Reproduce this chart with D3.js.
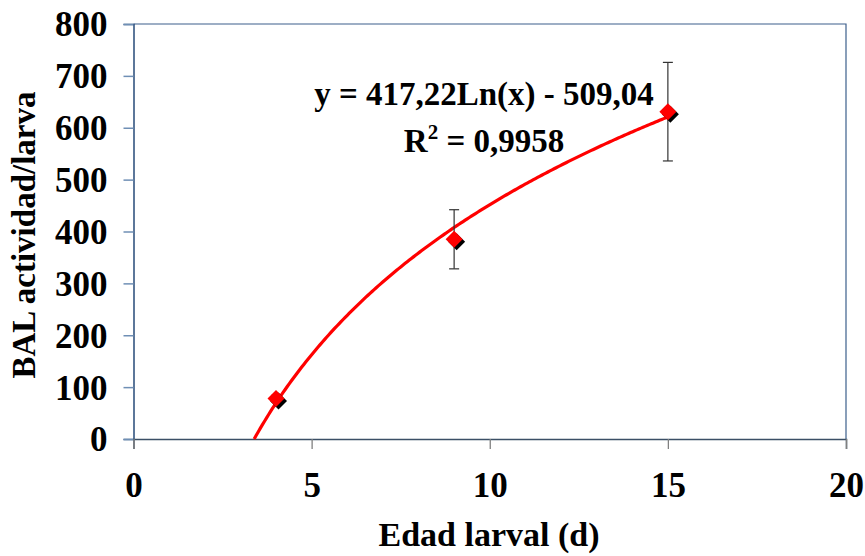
<!DOCTYPE html>
<html><head><meta charset="utf-8">
<script src="https://cdn.jsdelivr.net/npm/d3@7"></script>
<style>
body{margin:0;background:#fff;}
svg{display:block;font-family:"Liberation Serif","Times New Roman",serif;font-weight:bold;}
</style></head>
<body>
<svg id="c" width="865" height="556"></svg>
<script>
const edades = [4, 9, 15];
const actividad = [78, 385, 631];
const errores = [6, 57, 95];
const xTicks = [0, 5, 10, 15, 20];
const yTicks = [0, 100, 200, 300, 400, 500, 600, 700, 800];
const coefA = 417.22, coefB = -509.04;
const ecuacion = "y = 417,22Ln(x) - 509,04";
const r2Texto = "0,9958";
const xTitulo = "Edad larval (d)";
const yTitulo = "BAL actividad/larva";

const svg = d3.select("#c");
const L = 133.5, R = 846, T = 24, B = 439;
const x = d3.scaleLinear().domain([0, 20]).range([L, R]);
const y = d3.scaleLinear().domain([0, 800]).range([B, T]);
const axisCol = "#274b7a";

// border top/right
svg.append("path").attr("d", `M${L},${T}H${R}V${B}`).attr("fill","none").attr("stroke","#3d5f8c").attr("stroke-width",1.2);

// y axis
const gy = svg.append("g").attr("transform",`translate(${L},0)`)
  .call(d3.axisLeft(y).tickValues(yTicks).tickSize(10).tickPadding(16).tickFormat(d3.format("d")));
gy.select(".domain").attr("stroke",axisCol).attr("stroke-width",1.5);
gy.selectAll(".tick line").attr("stroke","#6f8fb5").attr("stroke-width",1.5);
gy.selectAll("text").attr("font-size",35).attr("font-family","Liberation Serif").attr("font-weight","bold").attr("fill","#000").attr("dy","0.34em");

// x axis
const gx = svg.append("g").attr("transform",`translate(0,${B})`)
  .call(d3.axisBottom(x).tickValues(xTicks).tickSize(10).tickPadding(36).tickFormat(d3.format("d")));
gx.select(".domain").attr("stroke","#3b4f66").attr("stroke-width",1.5);
gx.selectAll(".tick line").attr("stroke","#808080").attr("stroke-width",1.3);
gx.selectAll("text").attr("font-size",35).attr("font-family","Liberation Serif").attr("font-weight","bold").attr("fill","#000").attr("dy","0").attr("y",58);

// trend line
const x0 = Math.exp(-coefB / coefA);
const xs = d3.range(0, 201).map(i => x0 + (15 - x0) * i / 200);
svg.append("path")
  .datum(xs)
  .attr("d", d3.line().x(d => x(d)).y(d => y(coefA * Math.log(d) + coefB)))
  .attr("fill","none").attr("stroke","#ff0000").attr("stroke-width",3.2);

// error bars
const eb = svg.append("g").attr("stroke","#333").attr("stroke-width",1.2);
edades.forEach((e,i) => {
  const cx = x(e);
  eb.append("line").attr("x1",cx).attr("x2",cx).attr("y1",y(actividad[i]-errores[i])).attr("y2",y(actividad[i]+errores[i]));
  eb.append("line").attr("x1",cx-5).attr("x2",cx+5).attr("y1",y(actividad[i]-errores[i])).attr("y2",y(actividad[i]-errores[i]));
  eb.append("line").attr("x1",cx-5).attr("x2",cx+5).attr("y1",y(actividad[i]+errores[i])).attr("y2",y(actividad[i]+errores[i]));
});

// markers with shadow
const s = 8.5;
const diamond = (cx, cy) => `M${cx},${cy-s}L${cx+s},${cy}L${cx},${cy+s}L${cx-s},${cy}Z`;
edades.forEach((e,i) => {
  const cx = x(e), cy = y(actividad[i]);
  svg.append("path").attr("d", diamond(cx+2.5, cy+2.5)).attr("fill","#000");
  svg.append("path").attr("d", diamond(cx, cy)).attr("fill","#ff0000");
});

// equation
svg.append("text").attr("x",484).attr("y",105).attr("text-anchor","middle").attr("font-size",33).attr("fill","#000").text(ecuacion);
const r2 = svg.append("text").attr("x",484).attr("y",152).attr("text-anchor","middle").attr("font-size",33).attr("fill","#000");
r2.append("tspan").text("R");
r2.append("tspan").attr("font-size",21).attr("dy",-13).text("2");
r2.append("tspan").attr("dy",13).text(" = " + r2Texto);

// axis titles
svg.append("text").attr("x",489).attr("y",546).attr("text-anchor","middle").attr("font-size",34).attr("fill","#000").text(xTitulo);
svg.append("text").attr("transform","translate(35,235) rotate(-90)").attr("text-anchor","middle").attr("font-size",33).attr("fill","#000").text(yTitulo);
</script>
</body></html>
